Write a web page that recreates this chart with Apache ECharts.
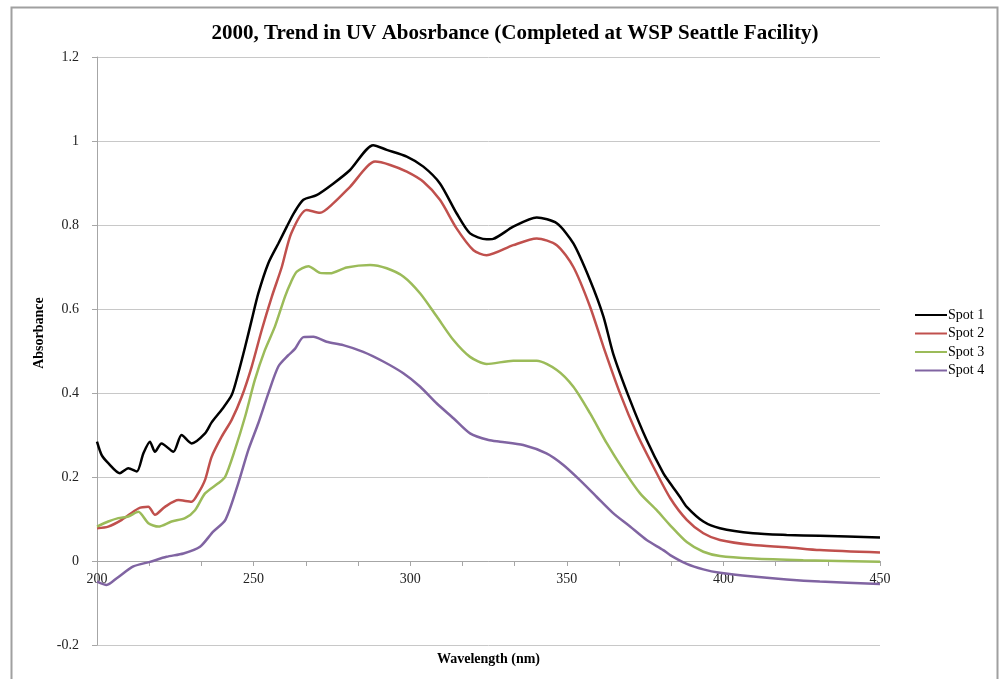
<!DOCTYPE html>
<html>
<head>
<meta charset="utf-8">
<script src="https://cdn.jsdelivr.net/npm/echarts@6/dist/echarts.min.js"></script>
<style>html,body{margin:0;padding:0;background:#fff;}#c{width:999px;height:679px;}</style>
</head>
<body>
<div id="c"></div>
<script>
const seriesNames = ['Spot 1', 'Spot 2', 'Spot 3', 'Spot 4'];
const xTickLabels = [200, 250, 300, 350, 400, 450];
const yTickLabels = [-0.2, 0, 0.2, 0.4, 0.6, 0.8, 1, 1.2];

const spot1W = [200,201.5,203.6,207.3,210,212.7,214.8,216.9,218.5,220.6,224.4,227,230.2,234.5,236.6,239.8,243,245.1,247.3,249.4,251.5,254.7,257.9,260.6,263,265.9,270.1,275.5,280.8,288.2,292.5,298.9,304.2,309.5,314.8,319.1,324.4,326.5,332.9,340.4,346.8,352.1,357.4,361.7,364.8,370.2,375.5,380.8,383,386.1,388.3,393.6,398.9,409.5,420.2,430.8,450];
const spot1V = [0.284,0.252,0.233,0.209,0.221,0.213,0.256,0.284,0.26,0.28,0.26,0.30,0.28,0.304,0.33,0.36,0.395,0.447,0.51,0.574,0.637,0.709,0.756,0.796,0.83,0.86,0.871,0.899,0.931,0.99,0.979,0.963,0.939,0.899,0.828,0.78,0.766,0.767,0.796,0.818,0.804,0.756,0.669,0.582,0.494,0.383,0.288,0.209,0.185,0.153,0.129,0.094,0.078,0.066,0.062,0.060,0.056];

const spot2W = [200,203.6,207.9,213.2,216.4,218.5,221.7,226,230.2,232.3,234.5,236.6,239.8,243,246.2,249.4,252.6,255.8,259,262,266.9,271.2,275.5,280.8,288.8,293.6,298.9,304.2,309.5,314.8,320.2,324.4,332.9,340.4,346.8,352.1,357.4,361.7,367,372.3,377.6,383,388.3,393.6,398.9,409.5,420.2,430.8,450];
const spot2V = [0.078,0.082,0.098,0.125,0.129,0.11,0.129,0.145,0.141,0.161,0.193,0.248,0.296,0.336,0.391,0.463,0.55,0.629,0.70,0.78,0.836,0.829,0.852,0.891,0.951,0.943,0.927,0.903,0.86,0.792,0.74,0.728,0.752,0.768,0.752,0.70,0.606,0.51,0.399,0.304,0.225,0.15,0.098,0.066,0.05,0.038,0.033,0.026,0.02];

const spot3W = [200,203.6,206.8,210,213.2,216.4,219.6,223.8,228.1,231.3,234.5,238.7,240.9,244,247.3,250.4,253.6,256.8,260,262,263.8,267.5,271.2,274.4,279.7,287.2,292.5,297.9,303.2,308.5,313.8,319.1,324.4,332.9,340.4,346.8,352.1,357.4,362.8,368.1,373.4,378.7,383,388.3,393.6,398.9,409.5,425.5,450];
const spot3V = [0.082,0.094,0.102,0.106,0.117,0.09,0.082,0.094,0.102,0.121,0.161,0.185,0.20,0.264,0.344,0.431,0.502,0.558,0.629,0.665,0.689,0.702,0.686,0.685,0.699,0.705,0.697,0.677,0.637,0.582,0.526,0.486,0.469,0.477,0.477,0.455,0.415,0.352,0.28,0.217,0.161,0.121,0.085,0.045,0.022,0.012,0.006,0.002,-0.002];

const spot4W = [200,203.1,206.3,211.6,216.9,222.2,227.6,232.9,237.1,241,245.1,248.3,251.5,254.7,257.9,261.1,263.2,265.9,269.1,273.3,278.6,285,291.4,297.8,303.2,308.5,313.8,319.1,325,328.7,336.1,343.5,348.8,354.1,359.5,364.8,370.2,375.5,380.8,383,388.3,393.6,398.9,409.5,420.2,430.8,450];
const spot4V = [-0.049,-0.057,-0.041,-0.013,-0.002,0.01,0.018,0.034,0.07,0.098,0.185,0.264,0.328,0.399,0.463,0.49,0.505,0.533,0.534,0.522,0.514,0.498,0.475,0.447,0.415,0.375,0.34,0.304,0.288,0.284,0.276,0.256,0.229,0.193,0.153,0.114,0.082,0.05,0.026,0.014,-0.007,-0.02,-0.028,-0.037,-0.044,-0.049,-0.055];

const colors = ['#000000', '#c0504d', '#9bbb59', '#8064a2'];
const wl = [spot1W, spot2W, spot3W, spot4W];
const ab = [spot1V, spot2V, spot3V, spot4V];

const serif = '"Liberation Serif", "DejaVu Serif", serif';
const chart = echarts.init(document.getElementById('c'), null, {renderer: 'canvas'});
chart.setOption({
  animation: false,
  backgroundColor: '#fff',
  color: colors,
  title: {
    text: '2000, Trend in UV Abosrbance (Completed at WSP Seattle Facility)',
    left: 510, top: 18, textAlign: 'center',
    textStyle: {fontFamily: serif, fontWeight: 'bold', fontSize: 21, color: '#000'}
  },
  grid: {left: 97, right: 119, top: 57, bottom: 34, containLabel: false, outerBoundsMode: 'none'},
  legend: {
    orient: 'vertical', left: 915, top: 308, padding: 0,
    itemWidth: 32, itemHeight: 12, itemGap: 4.5,
    textStyle: {fontFamily: serif, fontSize: 14, color: '#000', padding: [0,0,0,-4]},
    data: seriesNames.map(n => ({name: n, icon: 'path://M0,5L32,5L32,7L0,7Z'}))
  },
  xAxis: {
    type: 'value', min: 200, max: 450, interval: 50,
    name: 'Wavelength (nm)', nameLocation: 'middle', nameGap: 7,
    nameTextStyle: {fontFamily: serif, fontWeight: 'bold', fontSize: 14, color: '#000'},
    axisLine: {onZero: true, lineStyle: {color: '#a6a6a6', width: 1}},
    axisTick: {show: true, length: 5, lineStyle: {color: '#a6a6a6'}},
    minorTick: {show: true, splitNumber: 3, length: 5, lineStyle: {color: '#a6a6a6'}},
    splitLine: {show: false},
    axisLabel: {fontFamily: serif, fontSize: 14, color: '#222', margin: -73,
      customValues: xTickLabels}
  },
  yAxis: {
    type: 'value', min: -0.2, max: 1.2, interval: 0.2,
    name: 'Absorbance', nameLocation: 'middle', nameGap: 50,
    nameTextStyle: {fontFamily: serif, fontWeight: 'bold', fontSize: 14, color: '#000', padding: [0,0,0,36]},
    axisLine: {show: true, lineStyle: {color: '#a6a6a6'}},
    axisTick: {show: true, length: 5, lineStyle: {color: '#a6a6a6'}},
    splitLine: {show: true, lineStyle: {color: '#c8c8c8', width: 1}},
    axisLabel: {fontFamily: serif, fontSize: 14, color: '#222', margin: 18,
      formatter: v => {
        const r = Math.round(v * 10) / 10;
        return yTickLabels.includes(r) ? String(r) : '';
      }}
  },
  graphic: [{
    type: 'rect', left: 9, top: 5, silent: true,
    shape: {width: 986, height: 678},
    style: {fill: 'none', stroke: '#a0a0a0', lineWidth: 2}
  }],
  series: seriesNames.map((n, i) => ({
    name: n, type: 'line', symbol: 'none', smooth: 0.25,
    lineStyle: {width: 2.5, color: colors[i]},
    data: wl[i].map((w, j) => [w, ab[i][j]])
  }))
});
</script>
</body>
</html>
